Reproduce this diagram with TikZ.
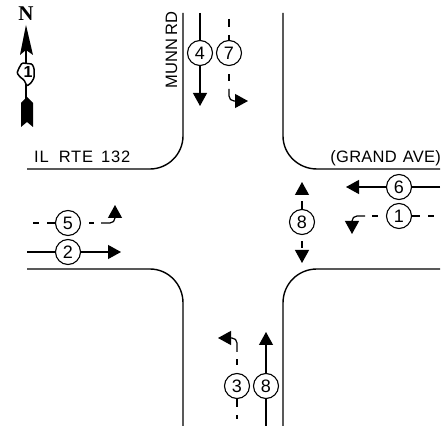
\documentclass[tikz,border=0pt]{standalone}
\usepackage{fontspec}
\setmainfont{Liberation Sans}
\newfontfamily\cadfont[LetterSpace=5]{Liberation Sans}
\newfontfamily\cadtight[LetterSpace=1.5]{Liberation Sans}
\newfontfamily\northfont{Liberation Serif}
\usepackage{tikz}
\usetikzlibrary{arrows.meta}
\tikzset{
	curb/.style={draw,line width=1.4pt},
	phase/.style={draw,circle,line width=1.1pt,minimum size=25pt,inner sep=0pt,fill=white,font=\fontsize{18}{18}\selectfont},
	label/.style={inner sep=0pt,font=\cadtight\fontsize{16.5}{17}\selectfont},
	move/.style={draw,line width=1.2pt,-{Triangle[length=13pt,width=14pt]},rounded corners=5pt},
	stub/.style={draw,line width=1.2pt},
	permitstub/.style={stub,dash pattern=on 8pt off 8pt},
}
\begin{document}
\begin{tikzpicture}[x=1pt,y=-1pt]
	\useasboundingbox (0,0) rectangle (442,427);

	% Curbs
	\draw[curb] (27,169) -- (150,169) .. controls (168,169) and (183,154) .. (183,136) -- (183,13);
	\draw[curb] (283,13) -- (283,136) .. controls (283,154) and (298,169) .. (317,169) -- (440,169);
	\draw[curb] (27,269) -- (150,269) .. controls (168,269) and (183,284) .. (183,303) -- (183,426);
	\draw[curb] (283,426) -- (283,303) .. controls (283,284) and (298,269) .. (317,269) -- (440,269);

	% Road names
	\node[label,anchor=base west] (rte) at (34,163) {\cadfont IL\hspace{10pt}RTE\hspace{8pt}132};
	\node[label,anchor=base east] (grand) at (441,163) {(GRAND\hspace{6pt}AVE)};
	\node[label,anchor=base west,rotate=90] (munn) at (177,89) {MUNN\hspace{3pt}RD};

	% Phase circles
	\node[phase] (p4) at (200,53) {4};
	\node[phase] (p7) at (229,53) {7};
	\node[phase] (p6) at (399,187) {6};
	\node[phase] (p1) at (399,216) {1};
	\node[phase] (p8r) at (302,222) {8};
	\node[phase] (p5) at (68,223) {5};
	\node[phase] (p2) at (68,252) {2};
	\node[phase] (p3) at (237,386) {3};
	\node[phase] (p8b) at (266,386) {8};

	% Free ends
	\coordinate (t4) at (200,13);
	\coordinate (h4) at (200,106);
	\coordinate (t7) at (229,19);
	\coordinate (e7) at (229,81);
	\coordinate (b7) at (229,89);
	\coordinate (h7) at (248,101);
	\coordinate (t6) at (440,187);
	\coordinate (h6) at (346,187);
	\coordinate (t1) at (434,216);
	\coordinate (e1) at (372,216);
	\coordinate (b1) at (365,216);
	\coordinate (h1) at (352,234);
	\coordinate (u8) at (302,194);
	\coordinate (a8) at (302,182);
	\coordinate (d8) at (302,248);
	\coordinate (c8) at (302,251);
	\coordinate (f8) at (302,263);
	\coordinate (t5) at (33,223);
	\coordinate (e5) at (94,223);
	\coordinate (b5) at (101,223);
	\coordinate (h5) at (115,205);
	\coordinate (t2) at (27,252);
	\coordinate (h2) at (121,252);
	\coordinate (t3) at (237,419);
	\coordinate (e3) at (237,359);
	\coordinate (b3) at (237,352);
	\coordinate (h3) at (218,338);
	\coordinate (t8) at (266,426);
	\coordinate (h8) at (266,332);

	% Movements
	\draw[stub] (t4) -- (p4);
	\draw[move] (p4) -- (h4);
	\draw[permitstub] (t7) -- (p7);
	\draw[permitstub,dash phase=8pt] (p7.south) -- (e7);
	\draw[move] (b7) -- (229,101) -- (h7);
	\draw[stub] (t6) -- (p6);
	\draw[move] (p6) -- (h6);
	\draw[permitstub] (p1.east) -- (t1);
	\draw[permitstub,dash phase=8pt] (p1.west) -- (e1);
	\draw[move] (b1) -- (352,216) -- (h1);
	\draw[permitstub] (p8r.north) -- (u8);
	\draw[move] (u8) -- (a8);
	\draw[permitstub,dash phase=10pt] (p8r.south) -- (d8);
	\draw[move] (c8) -- (f8);
	\draw[permitstub] (p5.west) -- (t5);
	\draw[permitstub,dash phase=8pt] (p5.east) -- (e5);
	\draw[move] (b5) -- (115,223) -- (h5);
	\draw[stub] (t2) -- (p2);
	\draw[move] (p2) -- (h2);
	\draw[permitstub] (p3.south) -- (t3);
	\draw[permitstub,dash phase=8pt] (p3.north) -- (e3);
	\draw[move] (b3) -- (237,338) -- (h3);
	\draw[stub] (t8) -- (p8b);
	\draw[move] (p8b) -- (h8);

	% North arrow
	\node[inner sep=0pt,font=\northfont\bfseries\fontsize{21}{21}\selectfont] (north) at (26,14) {N};
	\coordinate (shafttop) at (26,50);
	\coordinate (shaftend) at (26,100);
	\draw[line width=1.3pt] (shafttop) -- (shaftend);
	\fill (26,25) -- (33,55) -- (26,50) -- (20,55) -- cycle;
	\fill (27,97) -- (33,103) -- (33,127) -- (27,122) -- (21,127) -- (21,103) -- cycle;
	\draw[line width=1.5pt,fill=white,rounded corners=1pt] (22,63) -- (32,64) -- (34,68) -- (34,78) -- (31,83) -- (27,86) -- (24,80) -- (20,77) -- (17,73) -- (19,68) -- cycle;
	\node[inner sep=0pt,font=\bfseries\fontsize{16}{16}\selectfont] (state) at (28,72) {1};
\end{tikzpicture}
\end{document}
